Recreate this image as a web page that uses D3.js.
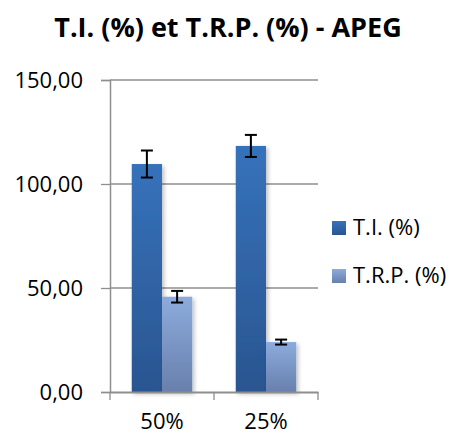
<!DOCTYPE html>
<html>
<head>
<meta charset="utf-8">
<script src="https://cdn.jsdelivr.net/npm/d3@7"></script>
<style>
  body { margin: 0; background: #fff; }
  text { font-family: "Open Sans", "Noto Sans", sans-serif; fill: #000; }
</style>
</head>
<body>
<div id="chart"></div>
<script>
// data
const categories = ["50%", "25%"];
const seriesNames = ["T.I. (%)", "T.R.P. (%)"];
const tiValues = [109.6, 118.3];
const tiErrors = [6.5, 5.3];
const trpValues = [45.8, 24.0];
const trpErrors = [2.8, 1.2];
const yTicks = [0, 50, 100, 150];

const width = 456, height = 436;
const plot = { left: 110, right: 318, top: 80, bottom: 392 };

const svg = d3.select("#chart").append("svg")
    .attr("width", width)
    .attr("height", height);

const defs = svg.append("defs");
function gradient(id, top, bottom) {
    const g = defs.append("linearGradient").attr("id", id)
        .attr("x1", 0).attr("y1", 0).attr("x2", 0).attr("y2", 1);
    g.append("stop").attr("offset", "0%").attr("stop-color", top);
    g.append("stop").attr("offset", "100%").attr("stop-color", bottom);
}
gradient("gTI", "#3672bb", "#2a5590");
gradient("gTRP", "#8cabdc", "#6880ac");
const shadow = defs.append("filter").attr("id", "shadow")
    .attr("x", "-20%").attr("y", "-10%").attr("width", "150%").attr("height", "130%");
shadow.append("feDropShadow").attr("dx", 2).attr("dy", 2).attr("stdDeviation", 2)
    .attr("flood-color", "#000").attr("flood-opacity", 0.25);

// title
svg.append("text")
    .attr("x", 228).attr("y", 37)
    .attr("text-anchor", "middle")
    .style("font-size", "27px").style("font-weight", "bold")
    .text("T.I. (%) et T.R.P. (%) - APEG");

const x = d3.scaleBand().domain(categories).range([plot.left, plot.right]);
const xs = d3.scaleBand().domain(seriesNames).range([0, x.bandwidth()]).paddingOuter(0.72).paddingInner(0);
const y = d3.scaleLinear().domain([0, 150]).range([plot.bottom, plot.top]);

// gridlines
svg.append("g").selectAll("line")
    .data(yTicks.filter(d => d > 0))
    .enter().append("line")
    .attr("x1", plot.left).attr("x2", plot.right)
    .attr("y1", d => y(d)).attr("y2", d => y(d))
    .attr("stroke", "#8e8e8e").attr("stroke-width", 1.3);

// y axis
const yAxis = svg.append("g")
    .attr("transform", `translate(${plot.left},0)`)
    .call(d3.axisLeft(y).tickValues(yTicks).tickSize(9).tickPadding(18)
        .tickFormat(d => d3.format(".2f")(d).replace(".", ",")));
yAxis.select(".domain").attr("stroke", "#8e8e8e").attr("stroke-width", 1.5);
yAxis.selectAll(".tick line").attr("stroke", "#8e8e8e").attr("stroke-width", 1.3);
yAxis.selectAll(".tick text").style("font-size", "22px").style("font-family", "'Open Sans', sans-serif").attr("fill", "#000");

// bars
const rows = categories.map((c, i) => [
    { cat: c, s: seriesNames[0], v: tiValues[i], e: tiErrors[i], fill: "url(#gTI)" },
    { cat: c, s: seriesNames[1], v: trpValues[i], e: trpErrors[i], fill: "url(#gTRP)" }
]).flat();

const bars = svg.append("g");
bars.selectAll("rect")
    .data(rows)
    .enter().append("rect")
    .attr("x", d => x(d.cat) + xs(d.s))
    .attr("y", d => y(d.v))
    .attr("width", xs.bandwidth())
    .attr("height", d => y(0) - y(d.v))
    .attr("fill", d => d.fill)
    .attr("filter", "url(#shadow)");

// x axis
const xAxis = svg.append("g")
    .attr("transform", `translate(0,${plot.bottom})`)
    .call(d3.axisBottom(x).tickSize(0));
xAxis.select(".domain").attr("stroke", "#8e8e8e").attr("stroke-width", 2);
xAxis.selectAll(".tick text")
    .attr("y", 37).attr("dy", 0)
    .style("font-size", "22px").style("font-family", "'Open Sans', sans-serif").attr("fill", "#000");
// category separators
svg.append("g").selectAll("line")
    .data([plot.left, ...categories.map(c => x(c) + x.bandwidth())])
    .enter().append("line")
    .attr("x1", d => d).attr("x2", d => d)
    .attr("y1", plot.bottom).attr("y2", plot.bottom + 8)
    .attr("stroke", "#8e8e8e").attr("stroke-width", 1.3);

// error bars
const err = svg.append("g").attr("stroke", "#000").attr("stroke-width", 2);
rows.forEach(d => {
    const cx = x(d.cat) + xs(d.s) + xs.bandwidth() / 2;
    err.append("line").attr("x1", cx).attr("x2", cx).attr("y1", y(d.v + d.e)).attr("y2", y(d.v - d.e));
    err.append("line").attr("x1", cx - 6).attr("x2", cx + 6).attr("y1", y(d.v + d.e)).attr("y2", y(d.v + d.e));
    err.append("line").attr("x1", cx - 6).attr("x2", cx + 6).attr("y1", y(d.v - d.e)).attr("y2", y(d.v - d.e));
});

// legend
const legend = svg.append("g");
const legendFills = ["url(#gTI)", "url(#gTRP)"];
seriesNames.forEach((name, i) => {
    const g = legend.append("g").attr("transform", `translate(332,${221 + i * 48})`);
    g.append("rect").attr("width", 14).attr("height", 14).attr("fill", legendFills[i]);
    g.append("text").attr("x", 21).attr("y", 14).style("font-size", "22px").text(name);
});
</script>
</body>
</html>
